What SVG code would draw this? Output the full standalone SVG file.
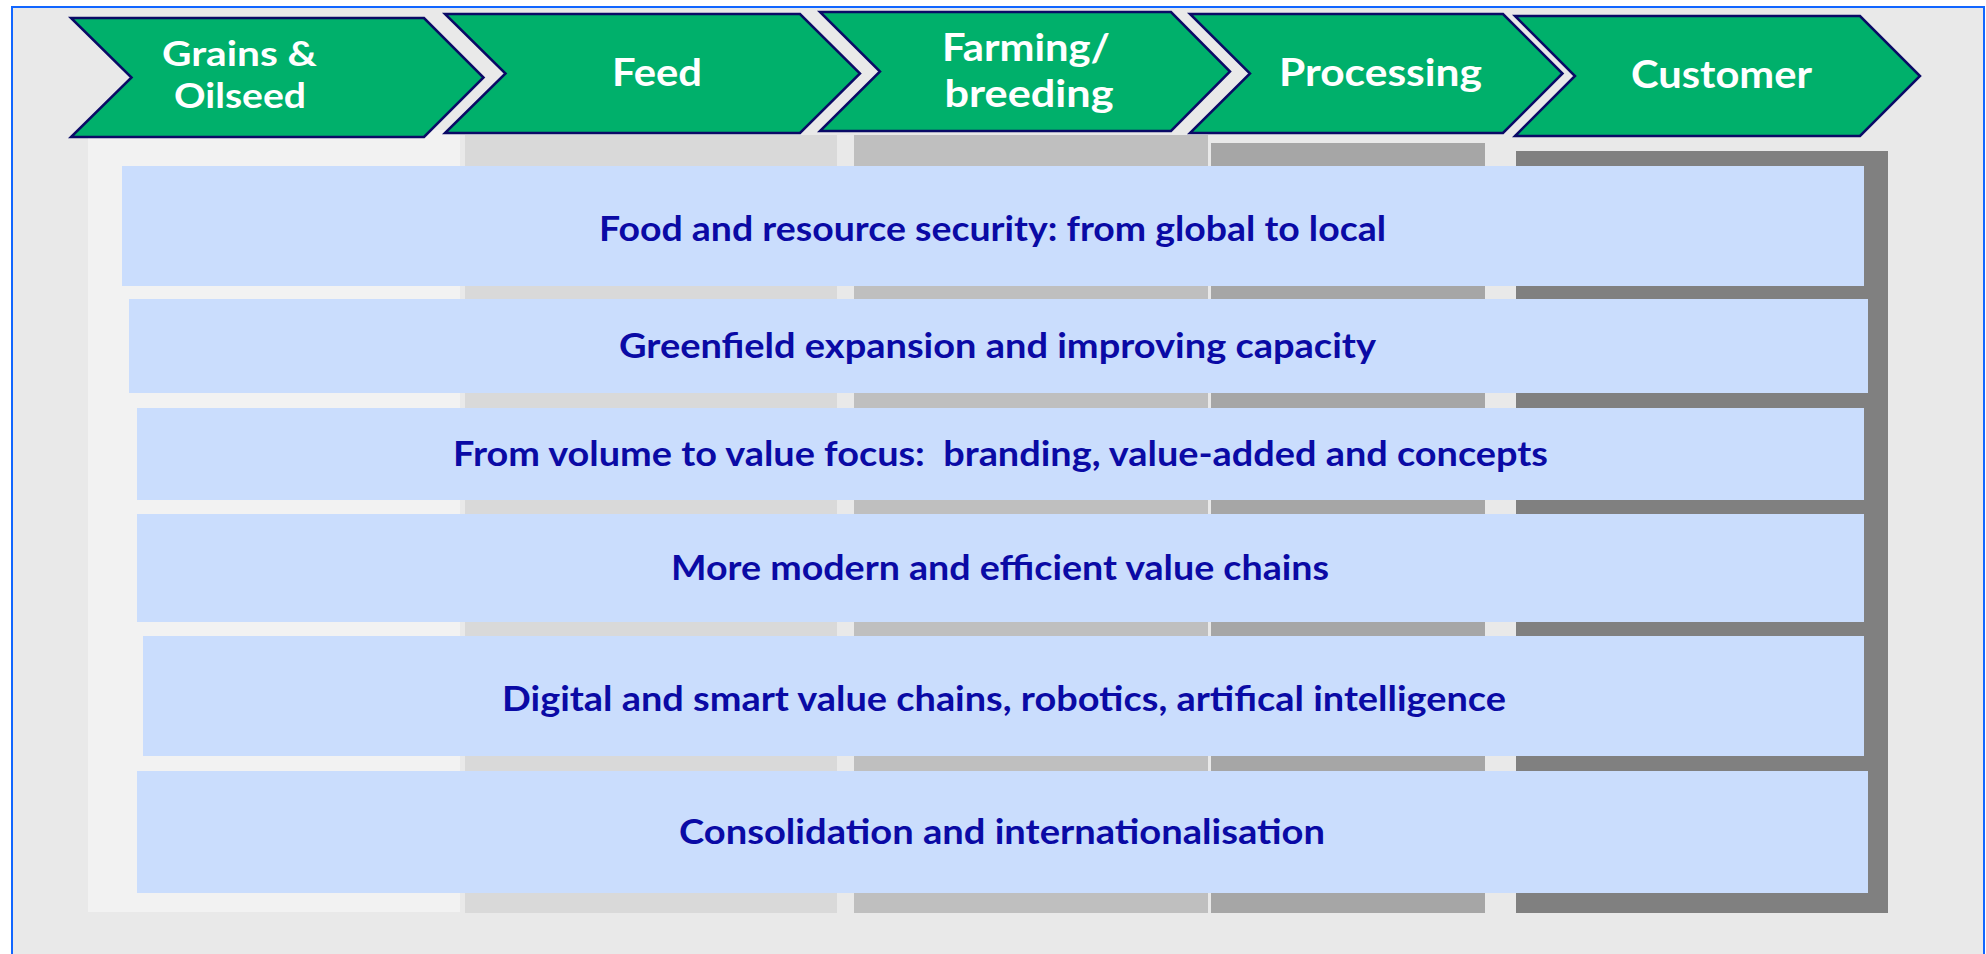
<svg xmlns="http://www.w3.org/2000/svg" width="1986" height="954" viewBox="0 0 1986 954">
  <style>
    .chev { fill: #00B06B; stroke: #0A0A66; stroke-width: 2.5; stroke-linejoin: miter; }
    .chevtxt { font-family: Lato, "Open Sans", sans-serif; font-weight: 700; font-size: 38px; fill: #FFFFFF; text-anchor: middle; }
    .chevtxt2 { font-size: 35px; }
    .band { fill: #CADDFD; }
    .bandtxt { font-family: Lato, "Open Sans", sans-serif; font-weight: 700; font-size: 34px; fill: #0A0AA5; text-anchor: middle; }
  </style>
  <rect x="0" y="0" width="1986" height="954" fill="#FFFFFF"/>
  <rect id="frame" x="12" y="7" width="1972" height="960" fill="#E9E9E9" stroke="#1166FF" stroke-width="2"/>

  <g id="columns">
    <rect x="88" y="130" width="372" height="782" fill="#F2F2F2"/>
    <rect x="465" y="135" width="372" height="778" fill="#D9D9D9"/>
    <rect x="854" y="135" width="354" height="778" fill="#BFBFBF"/>
    <rect x="1211" y="143" width="274" height="770" fill="#A6A6A6"/>
    <rect x="1516" y="151" width="372" height="762" fill="#808080"/>
  </g>

  <g id="chevron-grains">
    <polygon class="chev" points="71,18 424,18 483.5,77.5 424,137 71,137 131.5,77.5"/>
    <text class="chevtxt chevtxt2" x="239.5" y="65.5" textLength="155" lengthAdjust="spacingAndGlyphs">Grains &amp;</text>
    <text class="chevtxt chevtxt2" x="240" y="108" textLength="132" lengthAdjust="spacingAndGlyphs">Oilseed</text>
  </g>
  <g id="chevron-feed">
    <polygon class="chev" points="445,14 800,14 860,73.5 800,133 445,133 505.5,73.5"/>
    <text class="chevtxt" x="657" y="86" textLength="90" lengthAdjust="spacingAndGlyphs">Feed</text>
  </g>
  <g id="chevron-farming">
    <polygon class="chev" points="820,12 1171,12 1230,71.5 1171,131 820,131 880,71.5"/>
    <text class="chevtxt" x="1026" y="61" textLength="168" lengthAdjust="spacingAndGlyphs">Farming/</text>
    <text class="chevtxt" x="1029" y="106.7" textLength="169" lengthAdjust="spacingAndGlyphs">breeding</text>
  </g>
  <g id="chevron-processing">
    <polygon class="chev" points="1190,14 1503,14 1562.5,73.5 1503,133 1190,133 1250,73.5"/>
    <text class="chevtxt" x="1380.5" y="86" textLength="203" lengthAdjust="spacingAndGlyphs">Processing</text>
  </g>
  <g id="chevron-customer">
    <polygon class="chev" points="1515,16 1860,16 1920,76 1860,136 1515,136 1575,76"/>
    <text class="chevtxt" x="1721.5" y="88.3" textLength="181" lengthAdjust="spacingAndGlyphs">Customer</text>
  </g>

  <g id="band-food-security">
    <rect class="band" x="122" y="166" width="1742" height="120"/>
    <text class="bandtxt" x="992.5" y="240.7" textLength="787" lengthAdjust="spacingAndGlyphs">Food and resource security: from global to local</text>
  </g>
  <g id="band-greenfield">
    <rect class="band" x="129" y="299" width="1739" height="94"/>
    <text class="bandtxt" x="997.5" y="358" textLength="757" lengthAdjust="spacingAndGlyphs">Greenfield expansion and improving capacity</text>
  </g>
  <g id="band-volume-value">
    <rect class="band" x="137" y="408" width="1727" height="92"/>
    <text class="bandtxt" x="1000.5" y="466" textLength="1095" lengthAdjust="spacingAndGlyphs" xml:space="preserve">From volume to value focus:  branding, value-added and concepts</text>
  </g>
  <g id="band-modern">
    <rect class="band" x="137" y="514" width="1727" height="108"/>
    <text class="bandtxt" x="1000" y="580" textLength="658" lengthAdjust="spacingAndGlyphs">More modern and efficient value chains</text>
  </g>
  <g id="band-digital">
    <rect class="band" x="143" y="636" width="1721" height="120"/>
    <text class="bandtxt" x="1004" y="711" textLength="1004" lengthAdjust="spacingAndGlyphs">Digital and smart value chains, robotics, artifical intelligence</text>
  </g>
  <g id="band-consolidation">
    <rect class="band" x="137" y="771" width="1731" height="122"/>
    <text class="bandtxt" x="1002" y="844" textLength="646" lengthAdjust="spacingAndGlyphs">Consolidation and internationalisation</text>
  </g>

  <g id="connectors"/>
</svg>
